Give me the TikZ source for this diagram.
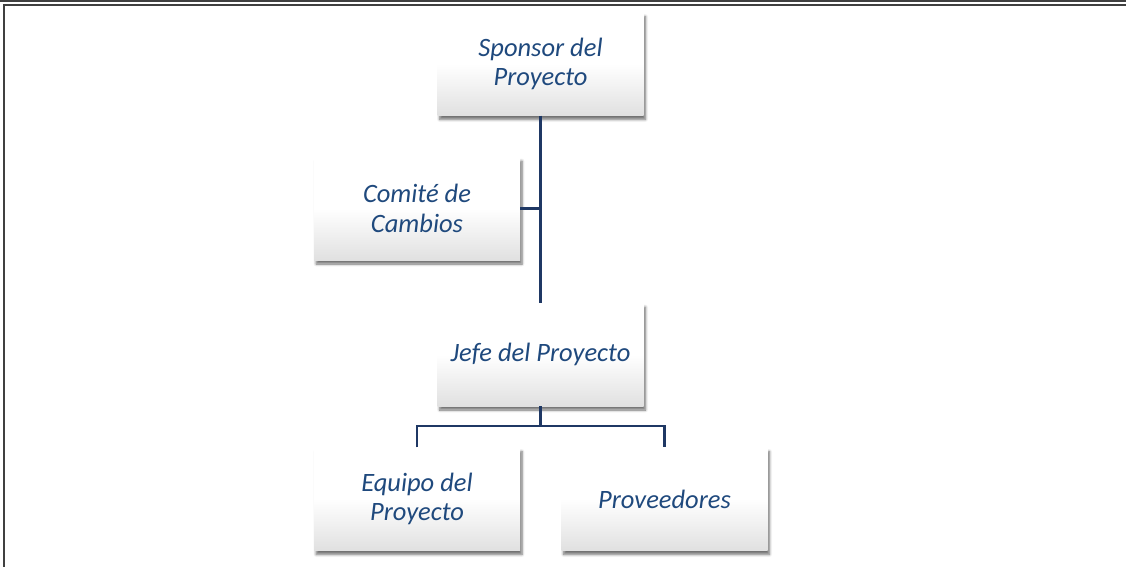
\documentclass[tikz,border=0pt]{standalone}
\usepackage{fontspec}
\setmainfont{Carlito}
\usetikzlibrary{shadows.blur}
\definecolor{linec}{HTML}{1F3864}
\definecolor{textc}{HTML}{1F497D}
\definecolor{framec}{HTML}{404040}
\tikzset{
  orgbox/.style={rectangle, minimum width=206pt, minimum height=103pt, inner sep=0pt,
    top color=white, bottom color=black!12, middle color=white, shading angle=0,
    blur shadow={shadow xshift=2pt, shadow yshift=-4pt, shadow blur steps=6, shadow blur radius=2.5pt, shadow opacity=55},
    text=textc, align=center, font=\fontsize{26.5}{29.5}\selectfont\itshape},
  conn/.style={draw=linec, line width=2.3pt},
  framel/.style={draw=framec, line width=2.2pt}
}
\begin{document}
\begin{tikzpicture}[x=1pt,y=-1pt]
\useasboundingbox (0,0) rectangle (1126,567);
% frame
\coordinate (ftl) at (0,1.2);
\coordinate (ftr) at (1126,1.2);
\coordinate (fil) at (4,5.2);
\coordinate (fir) at (1126,5.2);
\coordinate (fbl) at (4,567);
\draw[framel] (ftl) -- (ftr);
\draw[framel] (fir) -- (fil) -- (fbl);
% boxes
\node[orgbox] (spon) at (540.5,64) {Sponsor del\\Proyecto};
\node[orgbox] (com) at (417,208.5) {Comité de\\Cambios};
\node[orgbox] (jefe) at (540.5,354.5) {Jefe del Proyecto};
\node[orgbox] (equ) at (417,499) {Equipo del\\Proyecto};
\node[orgbox] (prov) at (664.5,499) {Proveedores};
% connectors
\coordinate (bus) at (540.5,426);
\draw[conn] (spon.south) -- (jefe.north);
\draw[conn] (com.east) -- (com.east -| spon.south);
\draw[conn] (jefe.south) -- (bus);
\draw[conn] (equ.north) |- (bus) -| (prov.north);
\end{tikzpicture}
\end{document}
